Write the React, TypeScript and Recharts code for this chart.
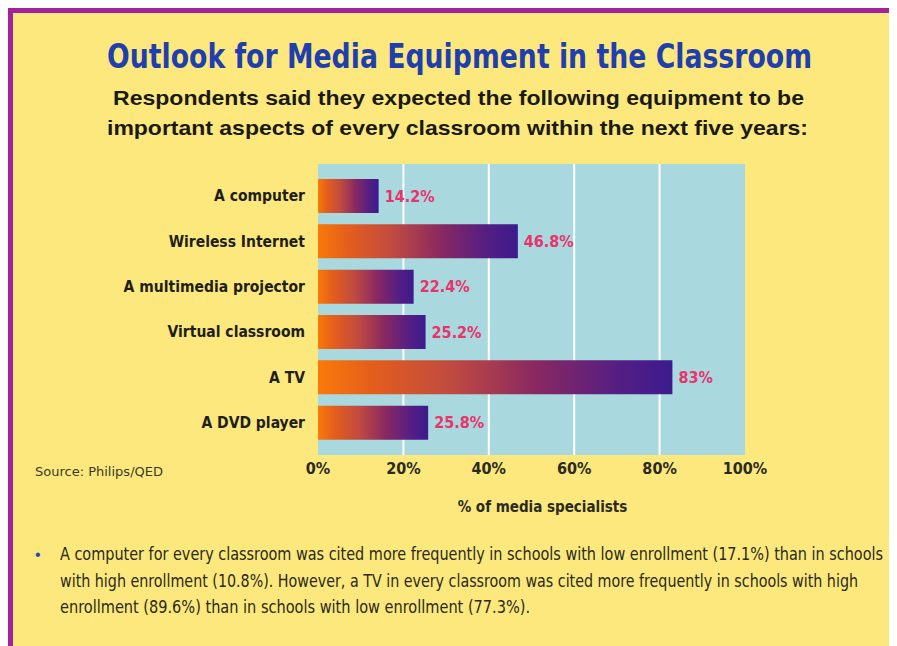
import { BarChart, Bar, XAxis, YAxis, CartesianGrid, LabelList } from "recharts";

const categories = [
  "A computer",
  "Wireless Internet",
  "A multimedia projector",
  "Virtual classroom",
  "A TV",
  "A DVD player",
];
const values = [14.2, 46.8, 22.4, 25.2, 83, 25.8];
const xTicks = [0, 20, 40, 60, 80, 100];
const gridValues = [20, 40, 60, 80];

const title = "Outlook for Media Equipment in the Classroom";
const subtitle = [
  "Respondents said they expected the following equipment to be",
  "important aspects of every classroom within the next five years:",
];
const note = [
  "A computer for every classroom was cited more frequently in schools with low enrollment (17.1%) than in schools",
  "with high enrollment (10.8%). However, a TV in every classroom was cited more frequently in schools with high",
  "enrollment (89.6%) than in schools with low enrollment (77.3%).",
];
const noteWidths = [823, 798, 470];
const source = "Source: Philips/QED";
const axisTitle = "% of media specialists";

const data = categories.map((name, i) => ({ name, value: values[i] }));

const NARROW = '"Liberation Sans Narrow", "DejaVu Sans Condensed", "Liberation Sans", Arial, sans-serif';
const SANS = '"Liberation Sans", Arial, sans-serif';
const YELLOW = "#fce87c";
const PURPLE = "#a3229c";

// text squeezed/stretched to a given width, optionally made taller
function FitText({ x, y, width, anchor = "start", sy = 1, children, ...rest }: any) {
  return (
    <g transform={`translate(${x},${y}) scale(1,${sy})`}>
      <text x={0} y={0} textAnchor={anchor} textLength={width} lengthAdjust="spacingAndGlyphs" {...rest}>
        {children}
      </text>
    </g>
  );
}

export default function App() {
  return (
    <div style={{ position: "relative", width: 889, height: 638, overflow: "hidden" }}>
      <div
        style={{
          position: "absolute",
          inset: 0,
          background: YELLOW,
          borderTop: `5px solid ${PURPLE}`,
          borderLeft: `5px solid ${PURPLE}`,
          boxSizing: "border-box",
        }}
      />
      <div style={{ position: "absolute", left: 12, top: 142 }}>
        <BarChart
          width={760}
          height={380}
          data={data}
          layout="vertical"
          margin={{ top: 14, right: 35, bottom: 0, left: 0 }}
        >
          <defs>
            <linearGradient id="barGrad" x1="0" y1="0" x2="1" y2="0">
              <stop offset="0" stopColor="#f97a08" />
              <stop offset="0.15" stopColor="#e45e1c" />
              <stop offset="0.38" stopColor="#bf4a42" />
              <stop offset="0.62" stopColor="#882862" />
              <stop offset="0.85" stopColor="#541e84" />
              <stop offset="1" stopColor="#3c1b8e" />
            </linearGradient>
          </defs>
          <CartesianGrid
            horizontal={false}
            verticalValues={gridValues}
            stroke="#ffffff"
            strokeWidth={2}
            fill="#a9d8df"
            fillOpacity={1}
          />
          <XAxis
            type="number"
            domain={[0, 100]}
            ticks={xTicks}
            tickFormatter={(v) => `${v}%`}
            axisLine={false}
            tickLine={false}
            height={75}
            tick={{ fill: "#2a2a22", fontSize: 16, fontWeight: 700, fontFamily: NARROW }}
            label={{
              value: axisTitle,
              position: "insideBottom",
              offset: 18,
              dx: 11,
              fill: "#2a2a22",
              fontSize: 15,
              fontWeight: 700,
              fontFamily: NARROW,
            }}
          />
          <YAxis
            type="category"
            dataKey="name"
            width={298}
            axisLine={false}
            tickLine={false}
            tickMargin={7}
            padding={{ top: 9, bottom: 10 }}
            tick={{ fill: "#1e1e1a", fontSize: 15.5, fontWeight: 700, fontFamily: NARROW }}
          />
          <Bar dataKey="value" fill="url(#barGrad)" barSize={34} isAnimationActive={false}>
            <LabelList
              dataKey="value"
              position="right"
              offset={6}
              formatter={(v: number) => `${v}%`}
              fill="#e8336b"
              fontSize={16}
              fontWeight={700}
              fontFamily={NARROW}
            />
          </Bar>
        </BarChart>
      </div>
      <svg
        width={889}
        height={638}
        viewBox="8 8 889 638"
        style={{ position: "absolute", left: 0, top: 0, pointerEvents: "none" }}
      >
        <FitText
          x={459.5}
          y={68}
          width={705}
          anchor="middle"
          sy={1.18}
          fill="#1f3fae"
          fontSize={29}
          fontWeight={700}
          fontFamily={NARROW}
        >
          {title}
        </FitText>
        <FitText
          x={458.5}
          y={105}
          width={691}
          anchor="middle"
          fill="#1a1a14"
          fontSize={20}
          fontWeight={700}
          fontFamily={SANS}
          sy={1.05}
        >
          {subtitle[0]}
        </FitText>
        <FitText
          x={457.5}
          y={135}
          width={701}
          anchor="middle"
          fill="#1a1a14"
          fontSize={20}
          fontWeight={700}
          fontFamily={SANS}
          sy={1.05}
        >
          {subtitle[1]}
        </FitText>
        <FitText x={35} y={476} width={128} fill="#3a3a2a" fontSize={12} fontFamily={NARROW}>
          {source}
        </FitText>
        <text x={35} y={560} fill="#2a48b8" fontSize={16} fontFamily={SANS}>
          •
        </text>
        {note.map((line, i) => (
          <FitText
            key={i}
            x={60}
            y={560 + i * 26.5}
            width={noteWidths[i]}
            sy={1.19}
            fill="#2a2a1a"
            fontSize={14.5}
            fontFamily={NARROW}
          >
            {line}
          </FitText>
        ))}
      </svg>
    </div>
  );
}
